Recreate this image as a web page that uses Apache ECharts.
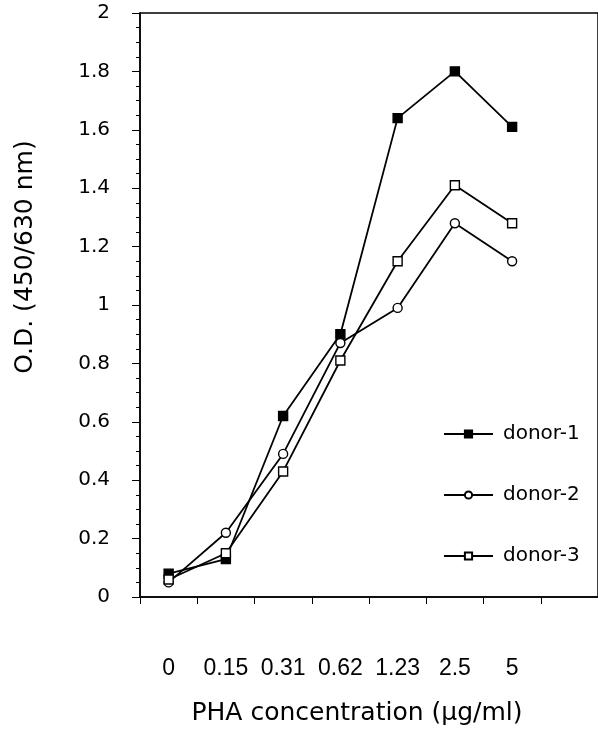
<!DOCTYPE html>
<html>
<head>
<meta charset="utf-8">
<script src="https://cdn.jsdelivr.net/npm/echarts@6/dist/echarts.min.js"></script>
<style>
html,body{margin:0;padding:0;background:#fff;}
#chart{width:598px;height:731px;}
</style>
</head>
<body>
<div id="chart"></div>
<script>
// Categories (last one empty: the axis continues past the last dose)
const categories = ['0', '0.15', '0.31', '0.62', '1.23', '2.5', '5', ''];
const donor1 = [0.08, 0.13, 0.62, 0.90, 1.64, 1.80, 1.61];
const donor2 = [0.05, 0.22, 0.49, 0.87, 0.99, 1.28, 1.15];
const donor3 = [0.06, 0.15, 0.43, 0.81, 1.15, 1.41, 1.28];
const yTicks = { min: 0, max: 2, interval: 0.2 };

const chart = echarts.init(document.getElementById('chart'), null, { renderer: 'canvas' });

function lineSeries(name, data, symbol, fill) {
  return {
    name: name,
    type: 'line',
    data: data,
    symbol: symbol,
    symbolSize: 9,
    showAllSymbol: true,
    lineStyle: { color: '#000', width: 1.8 },
    itemStyle: { color: fill, borderColor: '#000', borderWidth: 1.4 },
    emphasis: { disabled: true },
    z: 3
  };
}

chart.setOption({
  animation: false,
  backgroundColor: '#fff',
  grid: {
    left: 140, top: 13, width: 464, height: 584,
    show: true, borderColor: '#000', borderWidth: 1.5, backgroundColor: 'transparent'
  },
  legend: {
    orient: 'vertical',
    left: 438, top: 419,
    itemWidth: 49, itemHeight: 9, itemGap: 41,
    textStyle: { fontFamily: 'DejaVu Sans', fontSize: 20, color: '#000', padding: [0, 0, 0, 5] },
    data: ['donor-1', 'donor-2', 'donor-3']
  },
  xAxis: {
    type: 'category',
    data: categories,
    boundaryGap: true,
    name: 'PHA concentration (µg/ml)',
    nameLocation: 'middle',
    nameGap: 104,
    nameTextStyle: { fontFamily: 'DejaVu Sans', fontSize: 25, color: '#000', padding: [0, 24, 0, 0] },
    axisLine: { lineStyle: { color: '#000', width: 1.5 } },
    axisTick: { show: true, inside: false, length: 7, alignWithLabel: false, lineStyle: { color: '#000' } },
    axisLabel: { margin: 60, fontFamily: 'Liberation Sans', fontSize: 23, color: '#000', interval: 0 },
    splitLine: { show: false }
  },
  yAxis: {
    type: 'value',
    min: yTicks.min, max: yTicks.max, interval: yTicks.interval,
    name: 'O.D. (450/630 nm)',
    nameLocation: 'middle',
    nameGap: 102,
    nameRotate: 90,
    nameTextStyle: { fontFamily: 'DejaVu Sans', fontSize: 25, color: '#000', padding: [0, 0, 0, 96] },
    axisLine: { show: true, lineStyle: { color: '#000', width: 1.5 } },
    axisTick: { show: true, inside: false, length: 8, lineStyle: { color: '#000' } },
    minorTick: { show: true, splitNumber: 4, length: 4, lineStyle: { color: '#000' } },
    axisLabel: {
      margin: 30, fontFamily: 'DejaVu Sans', fontSize: 20, color: '#000',
      formatter: function (v) { return String(Math.round(v * 10) / 10); }
    },
    splitLine: { show: false }
  },
  series: [
    lineSeries('donor-1', donor1, 'rect', '#000'),
    lineSeries('donor-2', donor2, 'circle', '#fff'),
    lineSeries('donor-3', donor3, 'rect', '#fff')
  ]
});
</script>
</body>
</html>
